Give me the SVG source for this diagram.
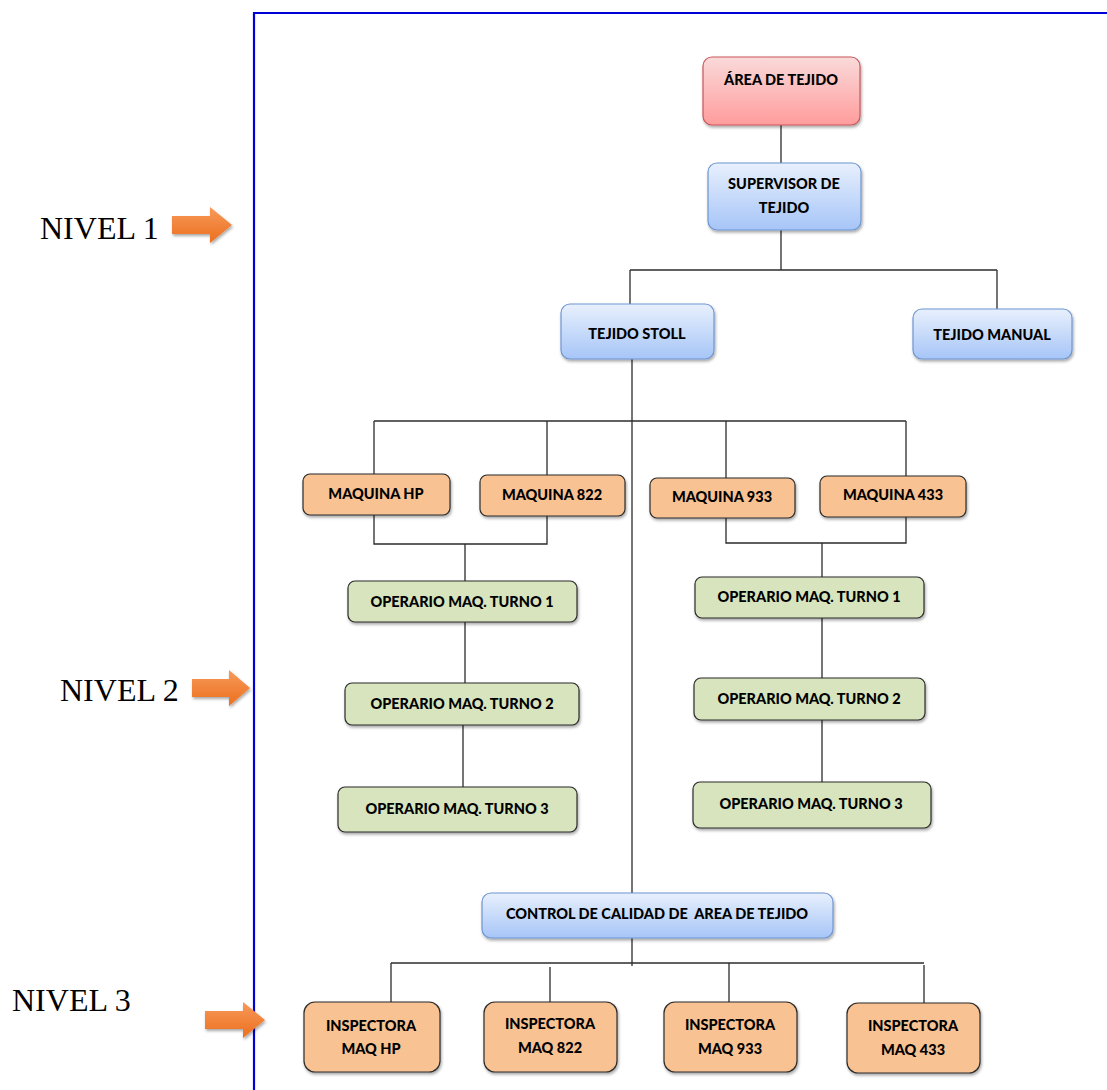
<svg xmlns="http://www.w3.org/2000/svg" width="1107" height="1090" viewBox="0 0 1107 1090">
<defs>
<linearGradient id="gRed" x1="0" y1="0" x2="0" y2="1"><stop offset="0" stop-color="#fadada"/><stop offset="1" stop-color="#ff9c9c"/></linearGradient>
<linearGradient id="gBlue" x1="0" y1="0" x2="0" y2="1"><stop offset="0" stop-color="#e8f0fd"/><stop offset="1" stop-color="#a6c5f7"/></linearGradient>
<linearGradient id="gArrow" x1="0" y1="0" x2="0" y2="1"><stop offset="0" stop-color="#f79a5a"/><stop offset="1" stop-color="#ec6f1e"/></linearGradient>
<filter id="sh" x="-10%" y="-10%" width="125%" height="140%"><feDropShadow dx="1" dy="2" stdDeviation="1.5" flood-color="#000" flood-opacity="0.35"/></filter>
<style>
.red{fill:url(#gRed);stroke:#c9585a;stroke-width:1.2}
.blue{fill:url(#gBlue);stroke:#6f96d2;stroke-width:1.2}
.ora{fill:#f9c293;stroke:#2b2b2b;stroke-width:1.2}
.grn{fill:#d7e4bd;stroke:#2b2b2b;stroke-width:1.2}
.t{font-family:Lato,"Open Sans",sans-serif;font-weight:900;font-size:14.5px;fill:#000;text-anchor:middle}
.nv{font-family:"Liberation Serif","Times New Roman",serif;font-size:32px;fill:#000}
.ln{stroke:#2b2b2b;stroke-width:1.3;fill:none}
.arr{fill:url(#gArrow)}
</style>
</defs>
<rect width="1107" height="1090" fill="#fff"/>
<g id="frame"><path d="M254 1090 V13 H1107" fill="none" stroke="#0000d6" stroke-width="2.2"/></g>
<g id="levels">
<g id="nivel1"><text class="nv" x="40" y="239">NIVEL 1</text><path class="arr" filter="url(#sh)" d="M172 216 H210 V207 L232 225 L210 243 V234 H172 Z"/></g>
<g id="nivel2"><text class="nv" x="60" y="701">NIVEL 2</text><path class="arr" filter="url(#sh)" d="M192 679 H229 V670 L250 688 L229 706 V697 H192 Z"/></g>
<g id="nivel3"><text class="nv" x="12" y="1011">NIVEL 3</text><path class="arr" filter="url(#sh)" d="M205 1011 H243 V1002 L265 1020 L243 1038 V1029 H205 Z"/></g>
</g>
<g id="connectors" class="ln">
<path d="M781 125 V163"/>
<path d="M781 230 V270"/>
<path d="M630 270 H997"/>
<path d="M630 270 V304"/>
<path d="M997 270 V309"/>
<path d="M632 359 V893"/>
<path d="M632 938 V966"/>
<path d="M374 421 H906"/>
<path d="M374 421 V474"/>
<path d="M547 421 V475"/>
<path d="M726 421 V478"/>
<path d="M906 421 V476"/>
<path d="M374 515 V544 H547 V516"/>
<path d="M465 544 V581"/>
<path d="M726 518 V543 H906 V517"/>
<path d="M822 543 V577"/>
<path d="M465 622 V683"/>
<path d="M463 725 V787"/>
<path d="M822 618 V678"/>
<path d="M822 720 V782"/>
<path d="M391 963 H924"/>
<path d="M391 963 V1002"/>
<path d="M550 967 V1002"/>
<path d="M729 963 V1002"/>
<path d="M924 965 V1003"/>
</g>
<g id="area"><rect class="red" filter="url(#sh)" x="703" y="57" width="157" height="68" rx="9"/><text class="t" x="781" y="85">ÁREA DE TEJIDO</text></g>
<g id="supervisor"><rect class="blue" filter="url(#sh)" x="708" y="163" width="153" height="67" rx="9"/><text class="t" x="784" y="189">SUPERVISOR DE</text><text class="t" x="784" y="213">TEJIDO</text></g>
<g id="stoll"><rect class="blue" filter="url(#sh)" x="561" y="304" width="153" height="55" rx="9"/><text class="t" x="637" y="339">TEJIDO STOLL</text></g>
<g id="manual"><rect class="blue" filter="url(#sh)" x="913" y="309" width="159" height="50" rx="9"/><text class="t" x="992" y="340">TEJIDO MANUAL</text></g>
<g id="maqhp"><rect class="ora" filter="url(#sh)" x="303" y="474" width="147" height="41" rx="7"/><text class="t" x="376" y="499">MAQUINA HP</text></g>
<g id="maq822"><rect class="ora" filter="url(#sh)" x="480" y="475" width="145" height="41" rx="7"/><text class="t" x="552" y="500">MAQUINA 822</text></g>
<g id="maq933"><rect class="ora" filter="url(#sh)" x="650" y="478" width="145" height="40" rx="7"/><text class="t" x="722" y="502">MAQUINA 933</text></g>
<g id="maq433"><rect class="ora" filter="url(#sh)" x="820" y="476" width="146" height="41" rx="7"/><text class="t" x="893" y="500">MAQUINA 433</text></g>
<g id="opL1"><rect class="grn" filter="url(#sh)" x="348" y="581" width="229" height="41" rx="7"/><text class="t" x="462" y="607">OPERARIO MAQ. TURNO 1</text></g>
<g id="opL2"><rect class="grn" filter="url(#sh)" x="345" y="683" width="234" height="42" rx="7"/><text class="t" x="462" y="709">OPERARIO MAQ. TURNO 2</text></g>
<g id="opL3"><rect class="grn" filter="url(#sh)" x="338" y="787" width="239" height="45" rx="7"/><text class="t" x="457" y="814">OPERARIO MAQ. TURNO 3</text></g>
<g id="opR1"><rect class="grn" filter="url(#sh)" x="695" y="577" width="229" height="41" rx="7"/><text class="t" x="809" y="602">OPERARIO MAQ. TURNO 1</text></g>
<g id="opR2"><rect class="grn" filter="url(#sh)" x="694" y="678" width="231" height="42" rx="7"/><text class="t" x="809" y="704">OPERARIO MAQ. TURNO 2</text></g>
<g id="opR3"><rect class="grn" filter="url(#sh)" x="693" y="782" width="238" height="46" rx="7"/><text class="t" x="811" y="809">OPERARIO MAQ. TURNO 3</text></g>
<g id="control"><rect class="blue" filter="url(#sh)" x="482" y="893" width="351" height="45" rx="9"/><text class="t" x="657" y="919" xml:space="preserve">CONTROL DE CALIDAD DE  AREA DE TEJIDO</text></g>
<g id="insHP"><rect class="ora" filter="url(#sh)" x="304" y="1002" width="136" height="70" rx="11"/><text class="t" x="371" y="1031">INSPECTORA</text><text class="t" x="371" y="1054">MAQ HP</text></g>
<g id="ins822"><rect class="ora" filter="url(#sh)" x="484" y="1002" width="133" height="70" rx="11"/><text class="t" x="550" y="1029">INSPECTORA</text><text class="t" x="550" y="1053">MAQ 822</text></g>
<g id="ins933"><rect class="ora" filter="url(#sh)" x="664" y="1002" width="133" height="70" rx="11"/><text class="t" x="730" y="1030">INSPECTORA</text><text class="t" x="730" y="1054">MAQ 933</text></g>
<g id="ins433"><rect class="ora" filter="url(#sh)" x="847" y="1003" width="133" height="70" rx="11"/><text class="t" x="913" y="1031">INSPECTORA</text><text class="t" x="913" y="1055">MAQ 433</text></g>
</svg>
